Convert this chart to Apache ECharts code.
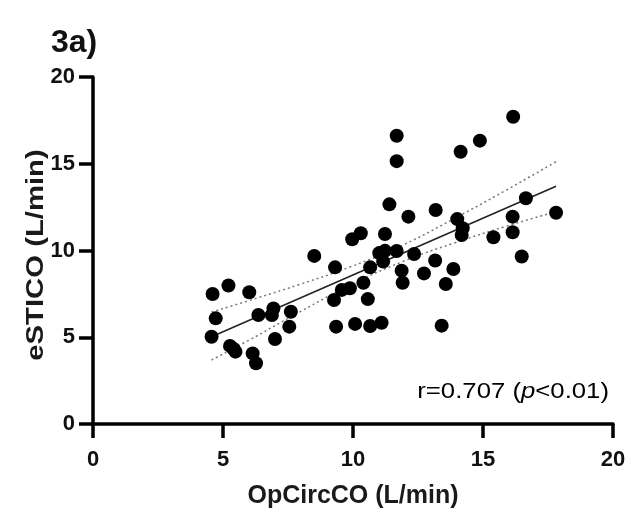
<!DOCTYPE html>
<html>
<head>
<meta charset="utf-8">
<script src="https://cdn.jsdelivr.net/npm/echarts@6/dist/echarts.min.js"></script>
<style>html,body{margin:0;padding:0;background:#fff}#c{width:631px;height:518px}</style>
</head>
<body>
<div id="c"></div>
<script>
// Scatter points: [OpCircCO, eSTICO]
const opCircCO = [4.60,5.21,6.01,4.72,4.56,6.36,6.94,6.88,7.61,7.55,7.00,5.27,5.41,5.48,6.14,6.27,
  8.51,9.31,9.97,10.30,11.23,11.01,11.23,11.16,11.68,12.35,13.16,13.86,10.66,11.87,12.73,10.40,11.91,13.57,9.88,9.57,9.27,10.57,9.35,10.08,10.66,11.10,13.41,
  11.68,11.68,11.40,12.13,13.18,14.14,14.88,16.16,16.65,17.81,16.14,16.14,14.01,14.22,14.18,15.40,16.49];
const eSTICO = [7.49,7.98,7.59,6.09,5.03,6.28,6.66,6.28,6.47,5.61,4.90,4.50,4.32,4.17,4.07,3.50,
  9.69,9.03,10.65,10.99,10.95,9.85,9.98,9.36,9.97,9.80,9.42,8.93,9.03,8.84,8.68,8.14,8.14,8.07,7.82,7.73,7.15,7.20,5.61,5.77,5.65,5.84,5.67,
  16.61,15.15,12.66,11.95,12.33,15.69,16.33,17.71,13.01,12.18,11.95,11.05,11.81,11.28,10.89,10.76,9.65];
// Regression line endpoints
const fitX = [4.56, 17.81];
const fitY = [5.03, 13.70];
// 95% confidence band
const bandX = [4.56, 5.95, 7.94, 9.92, 11.91, 13.89, 15.88, 17.81];
const bandUpper = [6.45, 7.09, 8.04, 9.07, 10.31, 11.84, 13.47, 15.12];
const bandLower = [3.69, 4.79, 6.45, 8.02, 9.36, 10.43, 11.39, 12.24];
const xTicks = [0, 5, 10, 15, 20];
const yTicks = [0, 5, 10, 15, 20];

const pts = opCircCO.map((x, i) => [x, eSTICO[i]]);
const zip = (a, b) => a.map((v, i) => [v, b[i]]);
const FONT = 'Liberation Sans, Arial, sans-serif';

const chart = echarts.init(document.getElementById('c'));
const axisCommon = {
  min: 0, max: 20, interval: 5,
  axisLine: { show: true, onZero: false, lineStyle: { color: '#000', width: 3.5 } },
  axisTick: { show: true, length: 14, lineStyle: { color: '#000', width: 3.5 } },
  splitLine: { show: false },
  nameLocation: 'middle'
};
const labelStyle = { fontFamily: FONT, fontWeight: 'bold', fontSize: 22, color: '#111' };
chart.setOption({
  animation: false,
  backgroundColor: '#fff',
  title: [{
    text: '3a)', left: 46, top: 22,
    textStyle: { fontFamily: FONT, fontWeight: 'bold', fontSize: 32, color: '#111' }
  }],
  graphic: [{
    type: 'text', x: 609, y: 392, scaleX: 1.17,
    style: {
      text: '{n|r=0.707 (}{i|p}{n|<0.01)}',
      align: 'right', verticalAlign: 'middle',
      rich: {
        n: { fontFamily: FONT, fontSize: 22, color: '#222' },
        i: { fontFamily: FONT, fontSize: 22, color: '#222', fontStyle: 'italic' }
      }
    }
  }, {
    type: 'text', x: 36, y: 255, rotation: Math.PI / 2, scaleX: 1.22,
    style: {
      text: 'eSTICO (L/min)', align: 'center', verticalAlign: 'middle',
      fontFamily: FONT, fontWeight: 'bold', fontSize: 24, fill: '#1a1a1a'
    }
  }],
  grid: { left: 93, right: 18, top: 77, bottom: 94, containLabel: false },
  xAxis: Object.assign({}, axisCommon, {
    type: 'value', name: 'OpCircCO (L/min)', nameGap: 60,
    nameTextStyle: { fontFamily: FONT, fontWeight: 'bold', fontSize: 25, color: '#1a1a1a' },
    axisLabel: Object.assign({}, labelStyle, { margin: 25,
      formatter: v => xTicks.includes(v) ? String(v) : '' })
  }),
  yAxis: Object.assign({}, axisCommon, {
    type: 'value',
    axisLabel: Object.assign({}, labelStyle, { margin: 18,
      formatter: v => yTicks.includes(v) ? String(v) : '' })
  }),
  series: [{
    type: 'line', data: zip(bandX, bandUpper), smooth: true, symbol: 'none', z: 2,
    lineStyle: { color: '#777', width: 1.5, type: [2, 3] }
  }, {
    type: 'line', data: zip(bandX, bandLower), smooth: true, symbol: 'none', z: 2,
    lineStyle: { color: '#777', width: 1.5, type: [2, 3] }
  }, {
    type: 'line', data: zip(fitX, fitY), symbol: 'none', z: 3,
    lineStyle: { color: '#222', width: 1.5 }
  }, {
    type: 'scatter', data: pts, symbol: 'circle', symbolSize: 14, z: 5,
    itemStyle: { color: '#000', opacity: 1 }
  }]
});
</script>
</body>
</html>
